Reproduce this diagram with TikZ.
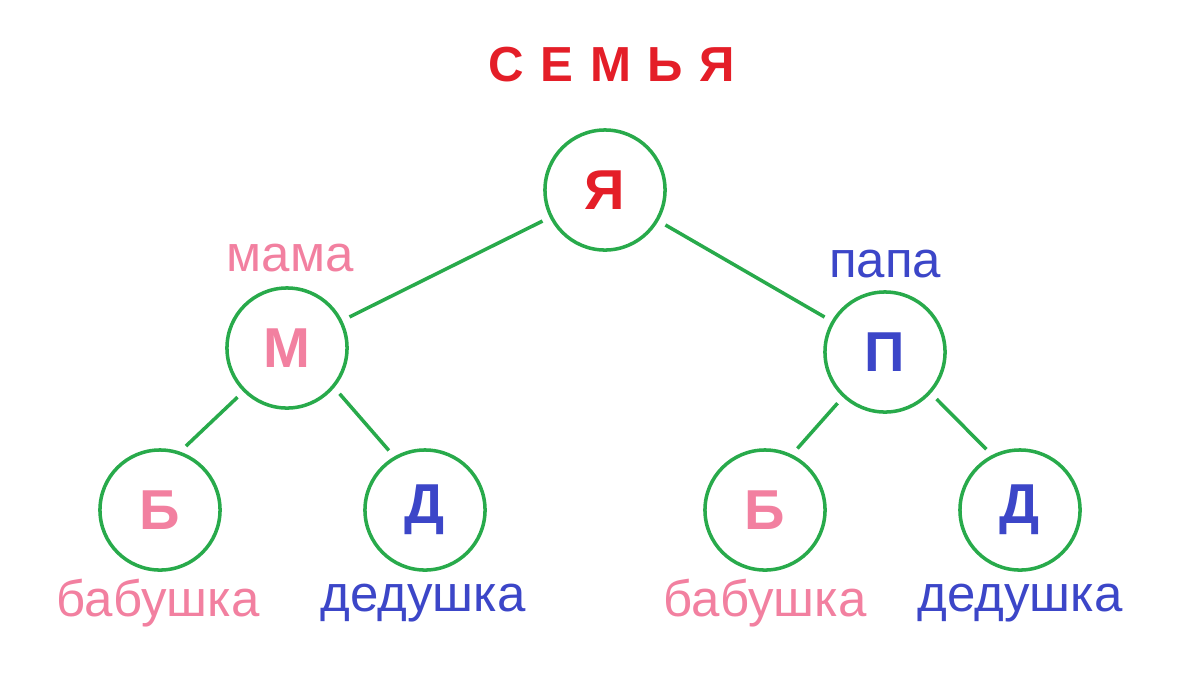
\documentclass[tikz,border=0pt]{standalone}
\usepackage{fontspec}
\setmainfont{Liberation Sans}
\usepackage{tikz}
\usetikzlibrary{positioning}
\definecolor{treegreen}{RGB}{40,170,75}
\definecolor{mamapink}{RGB}{242,128,160}
\definecolor{papablue}{RGB}{60,70,200}
\definecolor{titlered}{RGB}{228,30,40}
\tikzset{
  person/.style={circle,draw=treegreen,line width=1pt,minimum size=1.2cm,inner sep=0pt,font=\fontsize{16}{18}\selectfont\bfseries},
  kin/.style={font=\fontsize{14.5}{16}\selectfont},
  branch/.style={draw=treegreen,line width=1pt,shorten <=0.08cm,shorten >=0.08cm}
}
\begin{document}
\begin{tikzpicture}[x=0.01cm,y=-0.01cm]
\useasboundingbox (0,0) rectangle (1200,675);
\node[font=\fontsize{14}{16}\selectfont\bfseries,text=titlered] (title) at (612,65) {С\kern0.8pt\ Е\kern0.8pt\ М\kern0.8pt\ Ь\kern0.8pt\ Я};
\node[person,text=titlered] (ya) at (605,190) {Я};
\node[person,text=mamapink] (mama) at (287,348) {М};
\node[person,text=papablue] (papa) at (885,352) {П};
\node[person,text=mamapink] (b1) at (160,510) {Б};
\node[person,text=papablue] (d1) at (425,510) {Д};
\node[person,text=mamapink] (b2) at (765,510) {Б};
\node[person,text=papablue] (d2) at (1020,510) {Д};
\node[kin,text=mamapink] (lmama) at (290,258) {мама};
\node[kin,text=papablue] (lpapa) at (885,264) {папа};
\node[kin,text=mamapink] (lb1) at (158,603) {бабушка};
\node[kin,text=papablue] (ld1) at (423,603) {дедушка};
\node[kin,text=mamapink] (lb2) at (765,603) {бабушка};
\node[kin,text=papablue] (ld2) at (1020,603) {дедушка};
\path[branch]
(ya) edge (mama)
(ya) edge (papa)
(mama.225) edge (b1.71)
(mama.-40) edge (d1.120)
(papa.227) edge (b2.64)
(papa.-42) edge (d2.117);
\end{tikzpicture}
\end{document}
